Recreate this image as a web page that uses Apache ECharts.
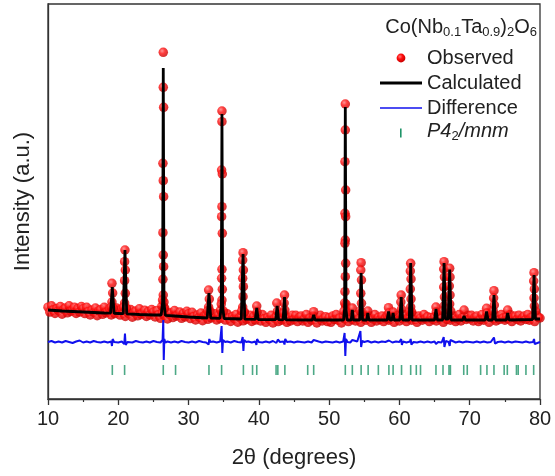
<!DOCTYPE html>
<html>
<head>
<meta charset="utf-8">
<script src="https://cdn.jsdelivr.net/npm/echarts@6/dist/echarts.min.js"></script>
<style>
  html, body { margin: 0; padding: 0; background: #fff; }
  #chart { width: 555px; height: 476px; }
</style>
</head>
<body>
<div id="chart"></div>
<script>
// observed background, one value per 0.25 deg starting at 10 deg
const obsStart = 10
const obsStep = 0.25
const obsBg = [
  91.8, 86.9, 93.2, 89, 85.5, 90.4, 88.3, 92.5, 84.8, 89.7, 91.1, 86.2, 93.2, 87.6, 89, 91.8, 85.5, 90.4, 86.9, 92.5,
  90.3, 85.4, 91.7, 87.5, 84, 88.9, 86.8, 91, 83.3, 88.2, 89.6, 84.7, 91.7, 86.1, 87.5, 90.3, 84, 88.9, 85.4, 91,
  88.8, 83.9, 90.2, 86, 82.5, 87.4, 85.3, 89.5, 81.8, 86.7, 88.1, 83.2, 90.2, 84.6, 86, 88.8, 82.5, 87.4, 83.9, 89.5,
  87, 82.1, 88.4, 84.2, 80.7, 85.6, 83.5, 87.7, 80, 84.9, 86.3, 81.4, 88.4, 82.8, 84.2, 87, 80.7, 85.6, 82.1, 87.7,
  85.3, 80.4, 86.7, 82.5, 79, 83.9, 81.8, 86, 78.3, 83.2, 84.6, 79.7, 86.7, 81.1, 82.5, 85.3, 79, 83.9, 80.4, 86,
  83.8, 78.9, 85.2, 81, 77.5, 82.4, 80.3, 84.5, 76.8, 81.7, 83.1, 78.2, 85.2, 79.6, 81, 83.8, 77.5, 82.4, 78.9, 84.5,
  83, 78.1, 84.4, 80.2, 76.7, 81.6, 79.5, 83.7, 76, 80.9, 82.3, 77.4, 84.4, 78.8, 80.2, 83, 76.7, 81.6, 78.1, 83.7,
  79.5, 83.7, 77.4, 81.6, 83, 78.1, 80.2, 84.4, 76.7, 80.9, 78.8, 83, 79.5, 76, 81.6, 83.7, 78.1, 80.2, 82.3, 77.4,
  81.6, 76.7, 83, 79.5, 84.4, 78.8, 80.9, 76, 82.3, 80.2, 83.7, 77.4, 81.6, 79.5, 83, 78.1, 84.4, 80.2, 76.7, 82.3,
  83.7, 78.8, 80.9, 83, 76.7, 80.2, 84.4, 78.1, 81.6, 79.5, 83, 77.4, 80.9, 83.7, 78.8, 80.2, 82.3, 76.7, 81.6, 83.7,
  78.1, 83, 80.2, 84.4, 77.4, 80.9, 82.3, 78.8, 83.7, 79.5, 76.7, 83, 80.9, 78.8, 84.4, 80.2, 82.3, 77.4, 81.6, 79.5,
  82.3, 78.1, 84.4, 80.2, 81.6, 76.7, 83, 79.5, 83.7, 78.8, 80.9, 83, 77.4, 80.2, 84.4, 78.1, 81.6, 82.3, 79.5, 83.7,
  80.2, 83.7, 78.1, 81.6, 83, 77.4, 79.5, 84.4, 78.8, 80.9, 82.3, 76.7, 81.6, 83.7, 80.2, 78.1, 83, 79.5, 84.4, 80.9,
  78.8, 82.3, 80.2, 84.4, 77.4, 81.6, 83, 79.5, 83.7, 78.1, 80.9, 83, 79.5, 84.4, 78.8, 81.6, 82.3, 77.4, 83.7, 81.6,
  81
]

// observed points on the Bragg peaks [2theta, intensity]
const obsPeaks = [
  [19.1, 115.7], [19.2, 106], [19.1, 97], [19.0, 92], [19.3, 91],
  [20.95, 149], [20.9, 137.3], [21.0, 129], [20.9, 118.3], [21.0, 105.7], [20.9, 96], [20.75, 92], [21.15, 91],
  [26.4, 346.7], [26.4, 311.7], [26.45, 291.7], [26.35, 235.7], [26.4, 218.3], [26.45, 202.3],
  [26.35, 166.3], [26.4, 144], [26.45, 132.3], [26.35, 119.7], [26.4, 104], [26.45, 92.3],
  [26.2, 93], [26.6, 91], [26.3, 99], [26.5, 97],
  [32.85, 109], [32.95, 100], [32.85, 92], [32.7, 88], [33.05, 88],
  [34.75, 288], [34.75, 277.3], [34.7, 229], [34.8, 225], [34.75, 192.3], [34.7, 182.3],
  [34.8, 165.7], [34.75, 129.7], [34.7, 120.7], [34.8, 109.7], [34.75, 99], [34.55, 89], [34.95, 88], [34.65, 95],
  [37.75, 146.3], [37.7, 139], [37.8, 129], [37.7, 120.7], [37.8, 112.3], [37.75, 102.3], [37.7, 92],
  [37.55, 88], [37.95, 87],
  [39.7, 93], [39.75, 87],
  [42.55, 96], [42.65, 88],
  [43.65, 104], [43.6, 96], [43.7, 89], [43.5, 86],
  [47.8, 87.3],
  [52.3, 295], [52.3, 269], [52.25, 237.3], [52.35, 209], [52.25, 185.7], [52.35, 182.3],
  [52.3, 159], [52.25, 155.7], [52.35, 135.7], [52.3, 122.3], [52.25, 107.3], [52.35, 92.3],
  [52.1, 88], [52.5, 87], [52.2, 96], [52.4, 95],
  [53.3, 91],
  [54.55, 136.3], [54.5, 129], [54.6, 119], [54.5, 105.7], [54.6, 95.7], [54.4, 88], [54.7, 87],
  [55.5, 88],
  [58.45, 91.3], [58.5, 86],
  [59.1, 87],
  [60.25, 104], [60.2, 97], [60.3, 90],
  [61.6, 135.7], [61.55, 128], [61.65, 120], [61.55, 110], [61.65, 100], [61.6, 92], [61.45, 87], [61.75, 87],
  [65.2, 92], [65.25, 87],
  [66.35, 137.3], [66.3, 130], [66.4, 122], [66.3, 112], [66.4, 102], [66.35, 93], [66.2, 88],
  [67.15, 130.7], [67.2, 122], [67.1, 113], [67.2, 104], [67.15, 95], [66.75, 90], [67.3, 88],
  [69.2, 89],
  [72.4, 90.7], [72.45, 86],
  [73.45, 108.3], [73.4, 101], [73.5, 94], [73.35, 88],
  [75.4, 89],
  [79.15, 126.3], [79.1, 118], [79.2, 110], [79.15, 101], [79.2, 93], [79.35, 88]
]

// calculated profile
const calcPts = [
  [10, 89], [12, 88], [15, 87], [18, 86], [18.9, 85.8], [19.15, 112], [19.4, 85.6], [20, 85.5],
  [20.7, 85.3], [20.95, 149], [21.2, 85.2], [23, 84.5], [25, 84], [26.1, 84], [26.3, 96],
  [26.4, 331], [26.5, 96], [26.7, 83.6], [28, 83], [30, 82], [32.65, 81], [32.9, 106], [33.15, 81],
  [34.45, 80.6], [34.65, 92], [34.75, 285], [34.85, 92], [35.05, 80.5], [37.5, 80], [37.75, 145],
  [38, 79.8], [39.5, 79.6], [39.7, 91], [39.9, 79.5], [42.4, 79.3], [42.6, 93], [42.8, 79.3],
  [43.45, 79.2], [43.65, 102], [43.85, 79.2], [47.6, 79], [47.8, 84], [48, 79], [52.05, 79],
  [52.2, 90], [52.3, 292], [52.4, 90], [52.55, 79], [53.15, 79], [53.3, 89], [53.45, 79],
  [54.35, 79], [54.55, 126], [54.75, 79], [55.35, 79], [55.5, 86], [55.65, 79], [58.25, 79],
  [58.45, 87.5], [58.65, 79], [58.95, 79], [59.1, 86], [59.25, 79], [60.05, 79], [60.25, 102],
  [60.45, 79], [61.4, 79], [61.6, 136], [61.8, 79], [65, 79], [65.2, 90], [65.4, 79],
  [66.15, 79], [66.35, 136], [66.55, 80], [66.95, 80], [67.15, 129.5], [67.35, 79], [69, 79],
  [69.2, 83], [69.4, 79], [72.2, 79], [72.4, 87.5], [72.6, 79], [73.25, 79], [73.45, 104],
  [73.65, 79], [75.2, 79], [75.4, 86], [75.6, 79], [78.95, 79.5], [79.15, 124], [79.35, 80], [80, 80]
]

// observed - calculated (offset)
const diffPts = [
  [10, 57], [10.5, 58], [11, 56.5], [11.5, 57.5], [12, 56.5], [12.5, 58], [13, 57], [13.5, 56],
  [14, 57.5], [14.5, 58.5], [15, 56.5], [15.5, 57.5], [16, 56.5], [16.5, 58], [17, 57], [17.5, 56.5],
  [18, 57.5], [18.5, 56.5], [19, 57.5], [19.1, 53], [19.2, 60], [19.4, 57], [19.5, 57.5], [20, 56.5],
  [20.5, 57.5], [20.85, 55], [20.95, 65.5], [21.05, 54], [21.3, 57], [21.5, 57.5], [22, 56.5],
  [22.5, 58], [23, 57], [23.5, 56.5], [24, 57.5], [24.5, 56.5], [25, 58], [25.5, 57], [26, 56.5],
  [26.3, 59], [26.4, 79], [26.47, 39], [26.55, 60], [26.7, 56.5], [27, 57.5], [27.5, 56.5],
  [28, 57.5], [28.5, 56.5], [29, 58], [29.5, 57], [30, 56.5], [30.5, 57.5], [31, 56.5], [31.5, 58],
  [32, 57], [32.5, 56.5], [32.85, 54.5], [32.95, 60], [33.1, 57], [33.5, 57.5], [34, 56.5],
  [34.5, 57.5], [34.7, 73], [34.8, 46], [34.9, 59], [35.2, 57], [35.5, 57.5], [36, 56.5], [36.5, 58],
  [37, 57], [37.5, 56.5], [37.7, 62], [37.8, 48], [37.9, 59], [38.2, 57], [38.5, 57.5], [39, 56.5],
  [39.5, 57.5], [39.65, 54], [39.75, 60], [40, 57], [40.5, 56.5], [41, 57.5], [41.5, 56.5], [42, 58],
  [42.5, 56], [42.7, 59.5], [43, 57], [43.5, 57.5], [43.65, 54.5], [43.75, 60], [44, 57], [44.5, 57.5],
  [45, 56.5], [45.5, 57.5], [46, 57], [46.5, 56.5], [47, 57.5], [47.5, 56.5], [47.8, 59], [48, 57],
  [48.5, 57.5], [49, 56.5], [49.5, 57.5], [50, 57], [50.5, 56.5], [51, 57.5], [51.5, 56.5], [52, 57.5],
  [52.2, 66], [52.3, 43], [52.4, 60], [52.6, 57], [53, 56.5], [53.3, 59], [53.5, 57], [54, 57.5],
  [54.45, 68], [54.55, 52], [54.7, 58], [55, 57], [55.5, 58], [56, 56.5], [56.5, 57.5], [57, 56.5],
  [57.5, 57.5], [58, 57], [58.5, 58.5], [59, 56.5], [59.5, 57.5], [60, 57], [60.25, 60], [60.35, 54],
  [60.5, 57.5], [61, 56.5], [61.5, 57.5], [61.6, 60], [61.7, 54.5], [62, 57], [62.5, 56.5], [63, 57.5],
  [63.5, 56.5], [64, 57.5], [64.5, 56.5], [65, 57.5], [65.2, 55], [65.5, 57], [66, 56.5], [66.3, 62],
  [66.4, 52], [66.6, 58], [67, 57], [67.15, 53], [67.25, 59], [67.5, 57], [68, 56.5], [68.5, 57.5],
  [69, 56.5], [69.5, 57.5], [70, 57], [70.5, 56.5], [71, 57.5], [71.5, 56.5], [72, 57.5], [72.5, 56.5],
  [73, 57], [73.45, 61.5], [73.6, 55.5], [74, 57], [74.5, 57.5], [75, 56.5], [75.5, 57.5], [76, 56.5],
  [76.5, 57.5], [77, 57], [77.5, 56.5], [78, 57.5], [78.5, 56.5], [79, 57], [79.15, 60], [79.25, 55],
  [79.5, 57], [80, 57]
]

// Bragg reflection positions (P4_2/mnm)
const braggPos = [
  19.15, 20.9, 26.4, 28.15, 32.9, 34.7, 37.8, 39.1, 39.7, 42.45, 42.7, 43.7, 46.95, 47.8,
  52.3, 53.3, 54.55, 55.55, 57.0, 58.5, 59.1, 60.3, 61.6, 62.4, 63.0, 65.2, 66.2, 67.05, 67.25,
  69.15, 69.65, 71.55, 72.45, 73.45, 74.9, 75.35, 76.65, 76.9, 78.0, 79.1
]
const braggLevel = 29

const FONT = 'Liberation Sans, Arial, sans-serif'
const RED_BALL = {
  type: 'radial', x: 0.38, y: 0.35, r: 0.65,
  colorStops: [
    { offset: 0, color: '#ff7a7a' },
    { offset: 0.45, color: '#ff0d0d' },
    { offset: 1, color: '#c80000' },
  ],
}

const obsData = obsBg.map((v, i) => [obsStart + i * obsStep, v]).concat(obsPeaks)

const chart = echarts.init(document.getElementById('chart'))

chart.setOption({
  animation: false,
  backgroundColor: '#fff',
  grid: { left: 48, right: 15, top: 4, bottom: 77, show: true, borderColor: '#333', borderWidth: 1.3 },
  xAxis: {
    type: 'value', min: 10, max: 80, interval: 10,
    name: '2θ (degrees)', nameLocation: 'middle', nameGap: 48,
    nameTextStyle: { fontFamily: FONT, fontSize: 22, color: '#222' },
    axisLine: { lineStyle: { color: '#333', width: 1.3 } },
    axisTick: { length: 6, lineStyle: { color: '#333', width: 1.3 } },
    minorTick: { show: true, splitNumber: 2, length: 3, lineStyle: { color: '#333', width: 1.2 } },
    axisLabel: { fontFamily: FONT, fontSize: 20, color: '#222', margin: 10 },
    splitLine: { show: false },
  },
  yAxis: {
    type: 'value', min: 0, max: 395,
    name: 'Intensity (a.u.)', nameLocation: 'middle', nameGap: 14,
    nameTextStyle: { fontFamily: FONT, fontSize: 22, color: '#222' },
    axisLine: { show: true, lineStyle: { color: '#333', width: 1.3 } },
    axisTick: { show: false },
    axisLabel: { show: false },
    splitLine: { show: false },
  },
  series: [
    {
      name: 'Observed', type: 'scatter', data: obsData,
      symbolSize: 9.5, itemStyle: { color: RED_BALL }, z: 2,
    },
    {
      name: 'Calculated', type: 'line', data: calcPts, symbol: 'none',
      lineStyle: { color: '#000', width: 2.8 }, z: 3,
    },
    {
      name: 'Difference', type: 'line', data: diffPts, symbol: 'none',
      lineStyle: { color: '#1010ee', width: 2 }, z: 3,
    },
    {
      name: 'P42/mnm', type: 'scatter', data: braggPos.map(x => [x, braggLevel]),
      symbol: 'rect', symbolSize: [1.6, 10], itemStyle: { color: '#1f9468' }, z: 3,
    },
  ],
  graphic: [
    {
      type: 'text', right: 18, top: 14, z: 10,
      style: {
        text: '{n|Co(Nb}{s|0.1}{n|Ta}{s|0.9}{n|)}{s|2}{n|O}{s|6}',
        fill: '#222',
        rich: {
          n: { fontFamily: FONT, fontSize: 20, lineHeight: 22, verticalAlign: 'top', fill: '#222' },
          s: { fontFamily: FONT, fontSize: 13, lineHeight: 13, padding: [12, 0, 0, 0], verticalAlign: 'bottom', fill: '#222' },
        },
      },
    },
    // legend
    { type: 'circle', shape: { cx: 401, cy: 58, r: 4.4 }, style: { fill: RED_BALL }, z: 10 },
    { type: 'text', x: 427, y: 58, z: 10, style: { text: 'Observed', font: '20px ' + FONT, fill: '#222', verticalAlign: 'middle' } },
    { type: 'line', shape: { x1: 380, y1: 83, x2: 422, y2: 83 }, style: { stroke: '#000', lineWidth: 3 }, z: 10 },
    { type: 'text', x: 427, y: 83, z: 10, style: { text: 'Calculated', font: '20px ' + FONT, fill: '#222', verticalAlign: 'middle' } },
    { type: 'line', shape: { x1: 380, y1: 108, x2: 422, y2: 108 }, style: { stroke: '#1010ee', lineWidth: 1.6 }, z: 10 },
    { type: 'text', x: 427, y: 108, z: 10, style: { text: 'Difference', font: '20px ' + FONT, fill: '#222', verticalAlign: 'middle' } },
    { type: 'rect', shape: { x: 400, y: 128.5, width: 1.6, height: 9 }, style: { fill: '#1f9468' }, z: 10 },
    {
      type: 'text', x: 427, y: 121, z: 10,
      style: {
        text: '{i|P4}{s|2}{i|/mnm}',
        rich: {
          i: { fontFamily: FONT, fontStyle: 'italic', fontSize: 20, lineHeight: 22, verticalAlign: 'top', fill: '#222' },
          s: { fontFamily: FONT, fontSize: 13, lineHeight: 13, padding: [12, 0, 0, 0], verticalAlign: 'bottom', fill: '#222' },
        },
      },
    },
  ],
})
</script>
</body>
</html>
